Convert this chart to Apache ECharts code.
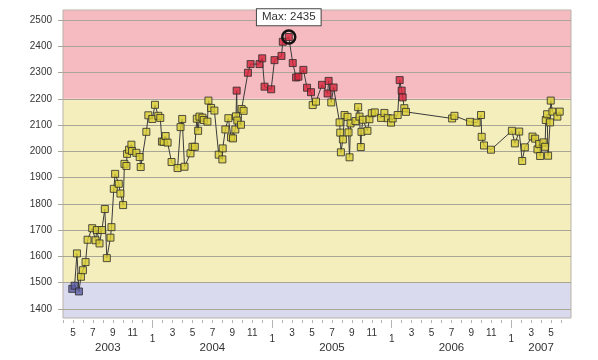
<!DOCTYPE html>
<html>
<head>
<meta charset="utf-8">
<script src="https://cdn.jsdelivr.net/npm/echarts@6/dist/echarts.min.js"></script>
<style>
html,body{margin:0;padding:0;background:#fff;}
#chart{width:598px;height:360px;}
</style>
</head>
<body>
<div id="chart"></div>
<script>
// ---- data ----
const dates = [
'2003-04-29','2003-05-06','2003-05-13','2003-05-19','2003-05-25','2003-06-01','2003-06-09','2003-06-15','2003-06-29','2003-07-09',
'2003-07-13','2003-07-21','2003-07-28','2003-08-07','2003-08-13','2003-08-24','2003-08-27','2003-09-04','2003-09-08','2003-09-19',
'2003-09-24','2003-10-02','2003-10-06','2003-10-12','2003-10-14','2003-10-20','2003-10-27','2003-10-29','2003-11-12','2003-11-22',
'2003-11-25','2003-12-12','2003-12-18','2003-12-30','2004-01-08','2004-01-18','2004-01-24','2004-01-29','2004-02-04','2004-02-10',
'2004-02-16','2004-02-28','2004-03-16','2004-03-25','2004-03-30','2004-04-07','2004-04-25','2004-05-01','2004-05-08','2004-05-14',
'2004-05-18','2004-05-22','2004-05-31','2004-06-05','2004-06-16','2004-06-19','2004-06-27','2004-07-07','2004-07-20','2004-07-31',
'2004-08-02','2004-08-10','2004-08-19','2004-08-27','2004-09-03','2004-09-10','2004-09-12','2004-09-14','2004-09-16','2004-09-27',
'2004-09-29','2004-10-05','2004-10-18','2004-10-26','2004-11-23','2004-12-01','2004-12-08','2004-12-28','2005-01-08','2005-01-29',
'2005-02-03','2005-02-21','2005-03-03','2005-03-13','2005-03-20','2005-04-05','2005-04-16','2005-04-28','2005-05-03','2005-05-13',
'2005-05-31','2005-06-18','2005-06-21','2005-06-29','2005-07-06','2005-07-24','2005-07-26','2005-07-28','2005-08-04','2005-08-09',
'2005-08-18','2005-08-21','2005-08-24','2005-08-27','2005-09-12','2005-09-20','2005-09-24','2005-09-28','2005-09-30','2005-10-04',
'2005-10-18','2005-10-24','2005-11-01','2005-11-10','2005-11-29','2005-12-09','2005-12-19','2005-12-29','2006-01-04','2006-01-19',
'2006-01-25','2006-02-01','2006-02-04','2006-02-09','2006-02-14','2006-07-03','2006-07-10','2006-08-27','2006-09-17','2006-09-30',
'2006-10-02','2006-10-09','2006-10-30','2007-01-03','2007-01-12','2007-01-25','2007-02-04','2007-02-12','2007-03-05','2007-03-13',
'2007-03-20','2007-03-25','2007-03-28','2007-04-08','2007-04-13','2007-04-15','2007-04-19','2007-04-22','2007-04-28','2007-04-30',
'2007-05-05','2007-05-20','2007-05-27'
];
const values = [
1476,1488,1611,1466,1522,1547,1578,1663,1707,1661,
1700,1649,1700,1780,1593,1671,1711,1857,1914,1876,
1839,1795,1952,1944,1990,2006,2025,2001,1994,1978,
1940,2074,2137,2123,2177,2135,2127,2037,2036,2058,
2033,1959,1936,2092,2123,1941,1992,2017,2017,2124,
2078,2132,2128,2119,2113,2193,2165,2155,1987,1969,
2011,2083,2126,2053,2049,2083,2133,2231,2117,2101,
2161,2154,2299,2332,2332,2354,2246,2236,2347,2363,
2417,2435,2336,2281,2284,2310,2242,2225,2176,2189,
2253,2220,2268,2186,2243,2110,2071,1996,2045,2138,
2131,2072,1977,2106,2115,2168,2132,2016,2074,2120,
2078,2122,2145,2148,2127,2146,2126,2109,2125,2138,
2271,2231,2205,2164,2150,2125,2135,2112,2109,2138,
2055,2022,2006,2078,2030,2075,1963,2015,2056,2048,
2007,2028,1982,2034,2017,2119,2141,1983,2110,2193,
2151,2132,2151
];
const yTickValues = [1400,1500,1600,1700,1800,1900,2000,2100,2200,2300,2400,2500];
const years = ['2003','2004','2005','2006','2007'];
const bandLimits = [1500, 2200];   // blue | yellow | red thresholds

// ---- helpers ----
const baseYear = 2003;
function monthIndex(s){
  const p = s.split('-').map(Number);
  return (p[0]-baseYear)*12 + (p[1]-1) + (p[2]-1)/30;
}
const points = dates.map((d,i)=>[monthIndex(d), values[i]]);

const xMin = 3, xMax = 54;      // Apr 2003 .. Jul 2007
const yMin = 1365, yMax = 2538;

const janTicks = [];
const yearCenters = [];
years.forEach((y,i)=>{
  const s = i*12, e = s+12;
  if (s > xMin) janTicks.push(s);
  yearCenters.push((Math.max(s,xMin)+Math.min(e,xMax))/2);
});

const FONT = '"Liberation Sans", Arial, Helvetica, sans-serif';
const gridColor = '#a9a597';
const tickColor = '#b4b4b4';

const chart = echarts.init(document.getElementById('chart'), null, {renderer:'canvas'});
chart.setOption({
  animation:false,
  backgroundColor:'#ffffff',
  textStyle:{fontFamily:FONT},
  grid:{left:63, right:27, top:10, bottom:42, show:true, borderColor:'#b9b3a9', borderWidth:1, backgroundColor:'transparent', z:2},
  xAxis:[{
    type:'value', min:xMin, max:xMax, interval:1, position:'bottom', offset:2, z:2,
    axisLine:{show:false},
    axisTick:{show:true, length:3, lineStyle:{color:tickColor, width:1}},
    splitLine:{show:false},
    axisLabel:{
      margin:8, fontSize:10, color:'#333', fontFamily:FONT,
      showMaxLabel:false, showMinLabel:true,
      formatter:function(v){
        const m = Math.round(v);
        if (m >= xMax) return '';
        const mo = ((m % 12)+12)%12 + 1;
        if (mo % 2 === 0) return '';
        if (mo === 1) return '{j|1}';
        return String(mo);
      },
      rich:{j:{fontSize:10, color:'#333', fontFamily:FONT, padding:[6,0,0,0]}}
    }
  },{
    type:'value', min:xMin, max:xMax, position:'bottom', offset:2, z:2,
    axisLine:{show:false},
    axisTick:{show:true, length:8, customValues:janTicks, lineStyle:{color:tickColor, width:1}},
    splitLine:{show:false},
    axisLabel:{
      show:true, margin:22, fontSize:11.5, color:'#333', fontFamily:FONT,
      customValues:yearCenters,
      formatter:function(v){
        const i = yearCenters.findIndex(c=>Math.abs(c-v)<0.01);
        return i>=0 ? years[i] : '';
      }
    }
  }],
  yAxis:{
    type:'value', min:yMin, max:yMax, z:2,
    axisLine:{show:false},
    axisTick:{show:true, length:5, customValues:yTickValues, lineStyle:{color:gridColor}},
    axisLabel:{margin:11, fontSize:10, color:'#333', fontFamily:FONT, customValues:yTickValues,
      formatter:function(v){ return String(Math.round(v)); }},
    splitLine:{show:true, lineStyle:{color:gridColor, width:1}}
  },
  visualMap:{
    type:'piecewise', show:false, seriesIndex:2, dimension:1,
    pieces:[
      {lt:bandLimits[0], color:'#5b5ca3'},
      {gte:bandLimits[0], lte:bandLimits[1], color:'#d9cd35'},
      {gt:bandLimits[1], color:'#d7263b'}
    ]
  },
  series:[{
    type:'line', data:points, z:1, silent:true, symbol:'none',
    lineStyle:{opacity:0},
    markArea:{
      silent:true,
      data:[
        [{yAxis:yMin, itemStyle:{color:'#dadaee'}},{yAxis:bandLimits[0]}],
        [{yAxis:bandLimits[0], itemStyle:{color:'#f4eebd'}},{yAxis:bandLimits[1]}],
        [{yAxis:bandLimits[1], itemStyle:{color:'#f6bbc0'}},{yAxis:yMax}]
      ]
    }
  },{
    type:'line', data:points, z:3, symbol:'none', silent:true,
    lineStyle:{color:'#3a3a3a', width:1}
  },{
    type:'scatter', data:points, z:4, symbol:'rect', symbolSize:7,
    itemStyle:{borderColor:'#2b2b2b', borderWidth:1},
    markPoint:{
      symbol:'circle', symbolSize:13,
      itemStyle:{color:'rgba(0,0,0,0)', borderColor:'#111', borderWidth:2.5},
      label:{
        show:true, position:'top', distance:4,
        formatter:function(p){ return 'Max: ' + p.value; },
        fontSize:11.5, color:'#333', fontFamily:FONT,
        backgroundColor:'#fff', borderColor:'#444', borderWidth:1, padding:[2,5,2,5]
      },
      data:[{type:'max', valueIndex:1}]
    }
  }]
});
</script>
</body>
</html>
